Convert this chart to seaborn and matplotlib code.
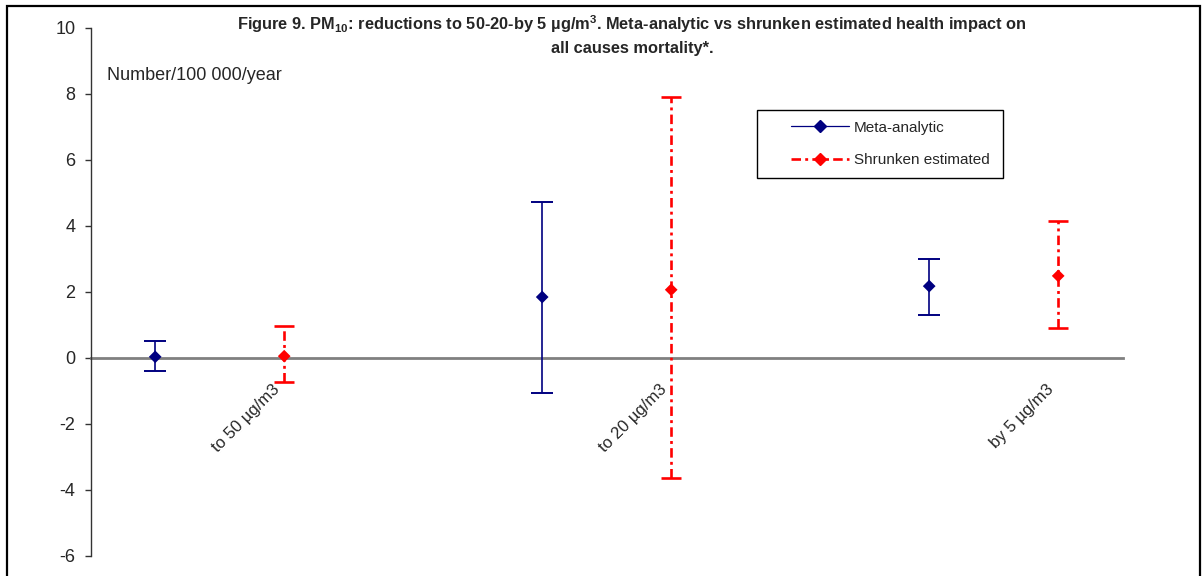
import matplotlib
matplotlib.use("Agg")
import matplotlib.pyplot as plt
import matplotlib.transforms as mtransforms
from matplotlib.lines import Line2D
from matplotlib.patches import Rectangle
import seaborn as sns
import pandas as pd
import numpy as np

# ---- data ----
categories = ["to 50 µg/m3", "to 20 µg/m3", "by 5 µg/m3"]
meta_vals = [0.03, 1.84, 2.17]
meta_low = [-0.39, -1.07, 1.30]
meta_high = [0.51, 4.71, 2.99]
shr_vals = [0.05, 2.06, 2.48]
shr_low = [-0.74, -3.63, 0.91]
shr_high = [0.97, 7.90, 4.14]
series_names = ["Meta-analytic", "Shrunken estimated"]
y_ticks = [-6, -4, -2, 0, 2, 4, 6, 8, 10]

sns.set_style("white")
plt.rcParams["font.family"] = ["Liberation Sans", "DejaVu Sans"]
plt.rcParams["mathtext.fontset"] = "custom"
plt.rcParams["mathtext.rm"] = "Liberation Sans:bold"
plt.rcParams["mathtext.it"] = "Liberation Sans:bold"
plt.rcParams["mathtext.bf"] = "Liberation Sans:bold"
plt.rcParams["mathtext.default"] = "rm"

META_C = "#000080"
SHR_C = "#FF0000"
DASHDOT = (0, (3.6, 1.6, 1.1, 1.6))

fig = plt.figure(figsize=(12.02, 5.76), dpi=100)
W, H = 1202, 576
ax = fig.add_axes([90.7 / W, 1 - 556 / H, (1122.7 - 90.7) / W, (556 - 27.5) / H])

# positions: 8 category slots, meta at 3i, shrunken at 3i+1
meta_x = [3 * i for i in range(len(categories))]
shr_x = [3 * i + 1 for i in range(len(categories))]

df = pd.DataFrame({
    "x": meta_x + shr_x,
    "value": meta_vals + shr_vals,
    "series": [series_names[0]] * 3 + [series_names[1]] * 3,
})

# error bars
ax.errorbar(meta_x, meta_vals,
            yerr=[np.array(meta_vals) - np.array(meta_low),
                  np.array(meta_high) - np.array(meta_vals)],
            fmt="none", ecolor=META_C, elinewidth=1.2, capsize=8, capthick=1.4, zorder=3)
eb2 = ax.errorbar(shr_x, shr_vals,
                  yerr=[np.array(shr_vals) - np.array(shr_low),
                        np.array(shr_high) - np.array(shr_vals)],
                  fmt="none", ecolor=SHR_C, elinewidth=1.9, capsize=7, capthick=1.9, zorder=3)
eb2[2][0].set_linestyle(DASHDOT)

sns.scatterplot(data=df, x="x", y="value", hue="series", style="series",
                markers={series_names[0]: "D", series_names[1]: "D"},
                palette={series_names[0]: META_C, series_names[1]: SHR_C},
                s=42, edgecolor="none", legend=False, ax=ax, zorder=4)

ax.set_xlim(-0.5, 7.5)
ax.set_ylim(-6, 10)
ax.set_yticks(y_ticks)
ax.set_yticklabels([str(t) for t in y_ticks], fontsize=13)
ax.set_xlabel("")
ax.set_ylabel("")

for s in ["top", "right"]:
    ax.spines[s].set_visible(False)
ax.spines["left"].set_color("#333333")
ax.spines["left"].set_linewidth(1.0)
ax.spines["bottom"].set_position(("data", 0))
ax.spines["bottom"].set_color("#808080")
ax.spines["bottom"].set_linewidth(2.0)
ax.spines["bottom"].set_zorder(2)

ax.tick_params(axis="y", direction="out", length=4, width=1, color="#333333", pad=7, left=True)
ax.set_xticks(shr_x)
ax.set_xticklabels(categories, fontsize=12, rotation=45, ha="right",
                   rotation_mode="anchor", va="center")
ax.tick_params(axis="x", length=0, pad=21, bottom=True)
off = mtransforms.ScaledTranslation(-7 / 100, 0, fig.dpi_scale_trans)
for lab in ax.get_xticklabels():
    lab.set_transform(lab.get_transform() + off)

ax.grid(False)

# unit label
fig.text(107 / W, 1 - 75 / H, "Number/100 000/year", fontsize=13, ha="left", va="center")

# title
fig.text(632 / W, 1 - 24 / H,
         "Figure 9. PM$_{10}$: reductions to 50-20-by 5 µg/m$^{3}$. Meta-analytic vs shrunken estimated health impact on",
         fontsize=11.8, fontweight="bold", ha="center", va="center")
fig.text(632 / W, 1 - 49 / H, "all causes mortality*.",
         fontsize=11.8, fontweight="bold", ha="center", va="center")

# legend
handles = [
    Line2D([0], [0], color=META_C, lw=0.9, marker="D", markersize=6.5, markeredgecolor=META_C),
    Line2D([0], [0], color=SHR_C, lw=1.9, linestyle=DASHDOT, marker="D",
           markersize=6.5, markeredgecolor=SHR_C),
]
leg = ax.legend(handles, series_names, loc="upper left",
                bbox_to_anchor=(780 / W, 1 - 110 / H), bbox_transform=fig.transFigure,
                fontsize=11, frameon=False,
                handlelength=3.8, handletextpad=0.35, labelspacing=1.2,
                borderpad=0.7, borderaxespad=0)
fig.patches.append(Rectangle((757 / W, 1 - 178 / H), (1003 - 757) / W, (178 - 110) / H,
                             transform=fig.transFigure, fill=False,
                             edgecolor="black", linewidth=1.0, zorder=10))

# figure border
fig.patches.append(Rectangle((7 / W, -0.1), (1200 - 7) / W, 1.1 - 5.5 / H,
                             transform=fig.transFigure, fill=False,
                             edgecolor="black", linewidth=1.6, zorder=10))

fig.savefig("out.png", dpi=100, facecolor="white")
